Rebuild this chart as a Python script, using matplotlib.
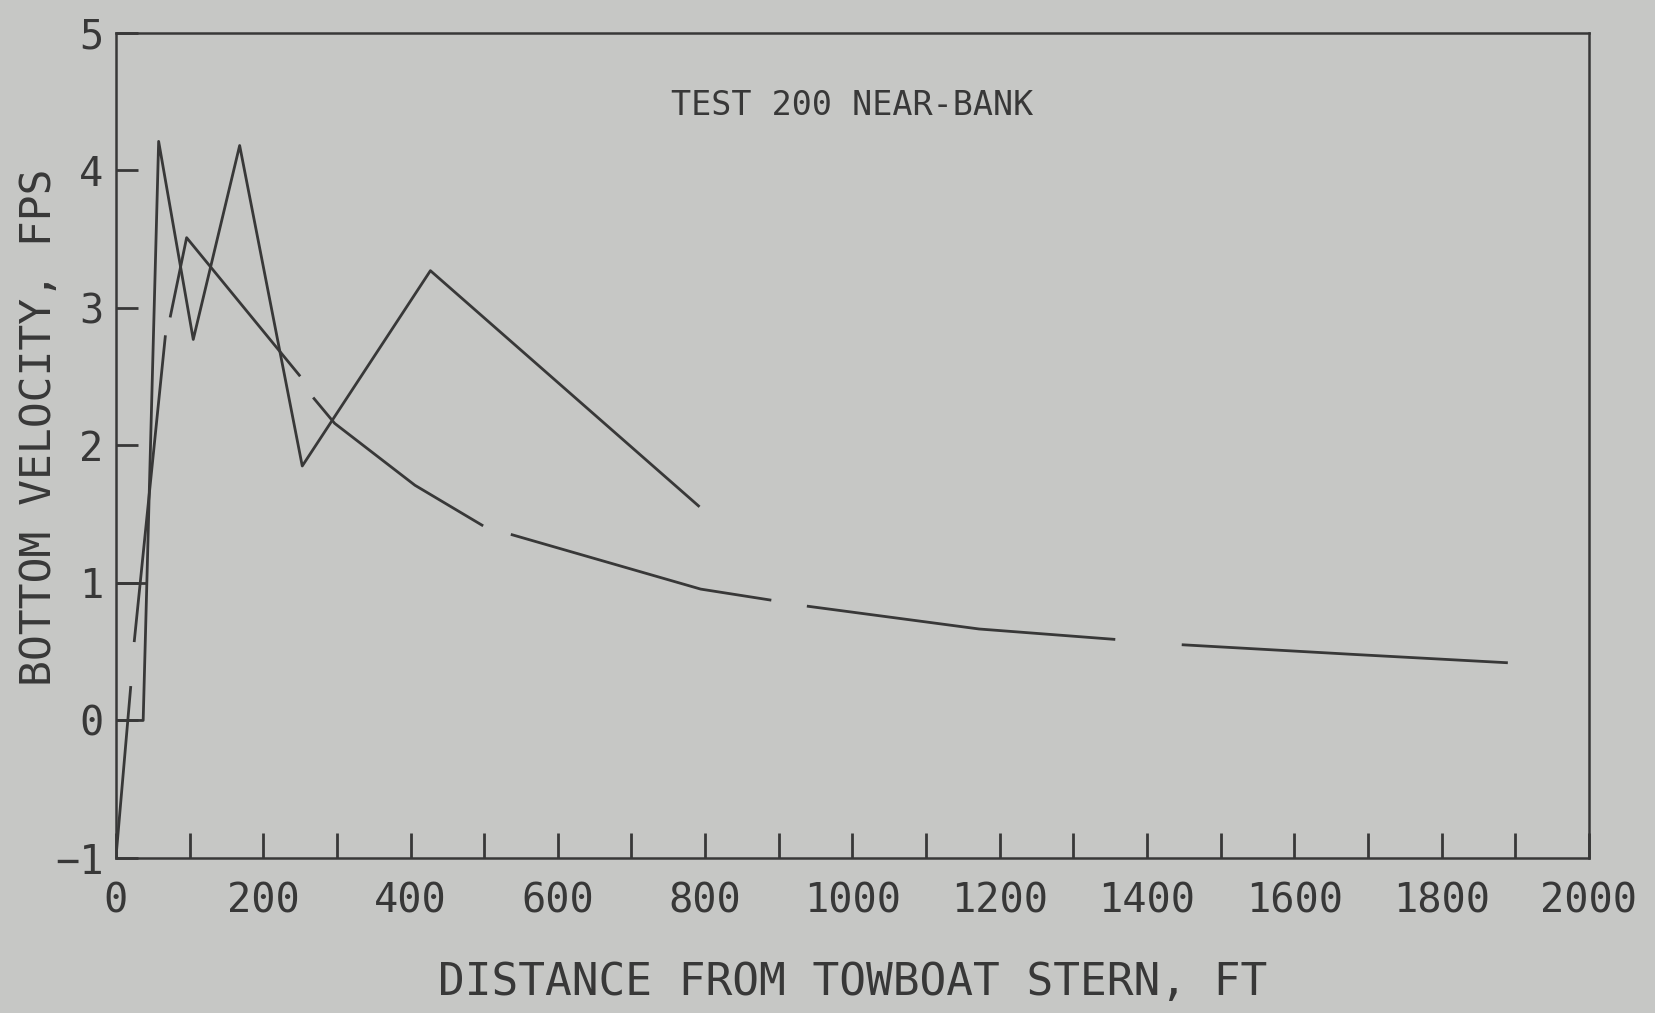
import numpy as np
import matplotlib.pyplot as plt
from matplotlib.ticker import MultipleLocator

# series (distance ft, bottom velocity fps)
dist_a = [0, 37, 58, 105, 168, 253, 427, 791]
vel_a = [0.0, 0.0, 4.21, 2.77, 4.18, 1.85, 3.27, 1.56]

# long-dashed decay curve, nan marks the pen gaps
dist_b = [0, 20, np.nan, 25, 67, np.nan, 74, 96, 249, np.nan,
          269, 297, 406, 497, np.nan, 538, 794, 888, np.nan,
          940, 1172, 1355, np.nan, 1449, 1681, 1888]
vel_b = [-1.0, 0.24, np.nan, 0.58, 2.79, np.nan, 2.94, 3.51, 2.51, np.nan,
         2.34, 2.16, 1.71, 1.42, np.nan, 1.35, 0.955, 0.876, np.nan,
         0.83, 0.665, 0.59, np.nan, 0.55, 0.48, 0.42]

dist_c = [0, 41]
vel_c = [1.0, 1.0]

title = 'TEST 200 NEAR-BANK'
xlabel = 'DISTANCE FROM TOWBOAT STERN, FT'
ylabel = 'BOTTOM VELOCITY, FPS'

bg = '#c6c7c5'
ink = '#383838'

plt.rcParams['font.family'] = ['DejaVu Sans Mono']

fig = plt.figure(figsize=(16.56, 10.13), dpi=100, facecolor=bg)
ax = fig.add_axes([0.070, 0.153, 0.8895, 0.8147], facecolor=bg)

ax.plot(dist_a, vel_a, color=ink, lw=2.0)
ax.plot(dist_b, vel_b, color=ink, lw=2.0)
ax.plot(dist_c, vel_c, color=ink, lw=2.0)

ax.set_xlim(0, 2000)
ax.set_ylim(-1, 5)
ax.xaxis.set_major_locator(MultipleLocator(200))
ax.xaxis.set_minor_locator(MultipleLocator(100))
ax.yaxis.set_major_locator(MultipleLocator(1))

for s in ax.spines.values():
    s.set_color(ink)
    s.set_linewidth(1.8)

ax.tick_params(axis='x', which='both', direction='in', length=18, width=2.0,
               color=ink, top=False, pad=17, labelsize=29, labelcolor=ink)
ax.tick_params(axis='y', direction='in', length=16, width=2.0, color=ink,
               right=False, pad=9, labelsize=29, labelcolor=ink)

ax.text(0.5, 0.912, title, transform=ax.transAxes, ha='center', va='center',
        fontsize=24, color=ink)
ax.set_xlabel(xlabel, fontsize=32, color=ink, labelpad=28)
ax.set_ylabel(ylabel, fontsize=31, color=ink, va='center')
ax.yaxis.set_label_coords(-0.052, 0.522)

fig.savefig('out.png', dpi=100, facecolor=bg)
